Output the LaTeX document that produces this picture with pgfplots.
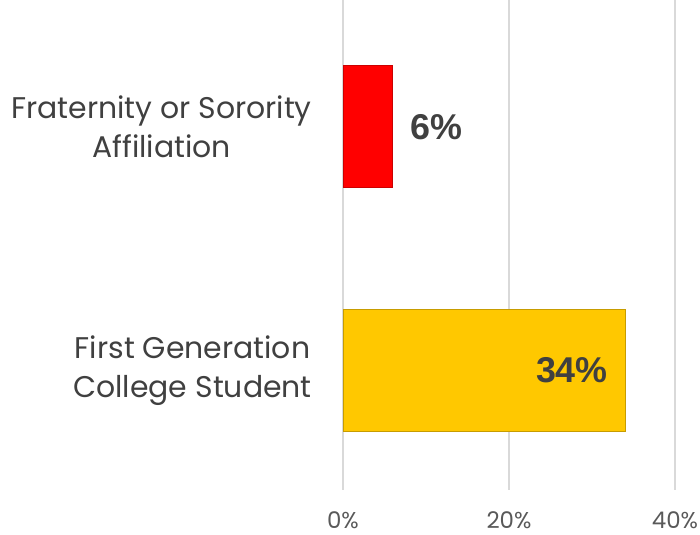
\documentclass[border=0pt]{standalone}
\usepackage{fontspec}
\setmainfont{Poppins}
\newfontfamily\labfont{Liberation Sans}
\usepackage{pgfplots}
\pgfplotsset{compat=1.18}
\definecolor{barred}{HTML}{FF0000}
\definecolor{bargold}{HTML}{FFC800}
\definecolor{gridgray}{HTML}{D9D9D9}
\definecolor{labgray}{HTML}{404040}
\definecolor{tickgray}{HTML}{595959}
\begin{document}
\begin{tikzpicture}
\path[use as bounding box] (-343bp,-45bp) rectangle (357bp,490bp);
\begin{axis}[
    at={(0,0)}, anchor=south west,
    scale only axis, width=332bp, height=490bp,
    xbar, bar width=122bp,
    xmin=0, xmax=40, ymin=-0.49, ymax=1.52,
    xtick={0,20,40}, xticklabels={0\%,20\%,40\%},
    ytick={0,1},
    yticklabels={{First Generation\\College Student},{Fraternity or Sorority\\Affiliation}},
    axis line style={draw=none},
    major tick length=0pt,
    xmajorgrids, grid style={gridgray, line width=1.3bp},
    /pgf/number format/assume math mode=true,
    x tick label style={font=\fontsize{23}{27}\selectfont, text=tickgray, anchor=center, inner sep=0pt, yshift=-30bp},
    y tick label style={font=\fontsize{30}{39}\selectfont, text=labgray, align=center, anchor=east, inner sep=0pt, xshift=-31bp},
    point meta=x,
    nodes near coords={\pgfmathprintnumber{\pgfplotspointmeta}\%},
    every node near coord/.append style={font=\labfont\bfseries\fontsize{36}{40}\selectfont, text=labgray, inner sep=0pt},
]
\addplot[fill=barred, draw=barred!80!black, line width=0.8bp, bar shift=0pt,
    every node near coord/.append style={anchor=west, xshift=17bp}]
    coordinates {(6,1)};
\addplot[fill=bargold, draw=bargold!78!black, line width=0.8bp, bar shift=0pt,
    every node near coord/.append style={anchor=east, xshift=-17bp}]
    coordinates {(34,0)};
\end{axis}
\end{tikzpicture}
\end{document}
